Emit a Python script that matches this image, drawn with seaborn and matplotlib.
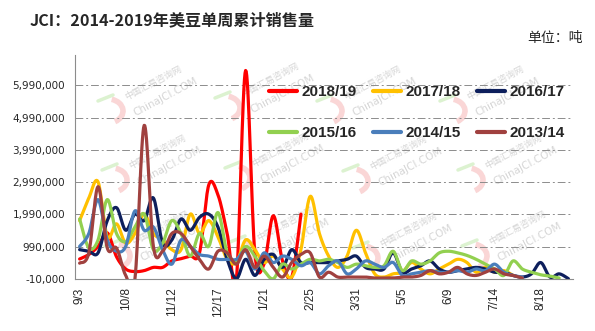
import numpy as np
import pandas as pd
import matplotlib
matplotlib.use("Agg")
import matplotlib.pyplot as plt
import seaborn as sns
from matplotlib.patches import Arc
from matplotlib.lines import Line2D

# ---- data: weekly net sales, million tonnes, marketing year starting 9/3 ----
week_labels = ["9/3", "10/8", "11/12", "12/17", "1/21", "2/25",
               "3/31", "5/5", "6/9", "7/14", "8/18"]
seasons = ["2018/19", "2017/18", "2016/17", "2015/16", "2014/15", "2013/14"]

sales_1819 = [0.61, 0.75, 1.0, 1.42, 0.68, 0.3, 0.22, 0.25, 0.35, 0.35, 0.55,
              0.62, 0.7, 0.8, 2.9, 2.6, 1.4, 0.0, 6.45, 0.8, 0.45, 1.95, 0.55,
              0.05, 2.0]
sales_1718 = [1.8, 2.5, 3.0, 1.3, 1.7, 1.1, 1.4, 2.0, 1.4, 1.2, 0.9, 0.9, 2.0,
              1.4, 1.8, 1.3, 0.6, 0.5, 1.2, 0.9, 0.5, 0.7, 0.3, 0.05, 0.9,
              2.55, 1.4, 0.7, 0.35, 0.7, 1.5, 0.8, 0.15, 0.05, 0.15, 0.2, 0.5,
              0.3, 0.15, 0.3, 0.45, 0.6, 0.5, 0.2, 0.35, 0.2, 0.25, 0.1]
sales_1617 = [0.9, 0.85, 0.8, 1.8, 2.2, 1.5, 2.0, 1.8, 2.5, 1.1, 1.2, 1.85,
              1.5, 1.9, 2.0, 1.6, 0.6, 0.0, 0.6, 0.1, 0.6, 0.75, 0.35, 0.9,
              0.5, 0.5, 0.5, 0.5, 0.55, 0.6, 0.7, 0.35, 0.3, 0.3, 0.8, 0.2,
              0.3, 0.4, 0.55, 0.3, 0.2, 0.25, 0.3, 0.35, 0.3, 0.2, 0.2, 0.1,
              0.05, 0.15, 0.5, 0.05, 0.15, 0.0]
sales_1516 = [1.85, 0.95, 1.2, 2.45, 1.4, 1.15, 1.6, 2.0, 0.9, 1.1, 1.8, 1.4,
              0.7, 1.4, 1.0, 2.05, 0.8, 0.55, 1.0, 0.7, 0.25, 0.0, 0.45, 0.3,
              0.45, 0.6, 0.55, 0.6, 0.5, 0.35, 0.45, 0.4, 0.35, 0.4, 0.85,
              0.25, 0.55, 0.45, 0.55, 0.8, 0.85, 0.8, 0.72, 0.6, 0.45, 0.3,
              0.1, 0.55, 0.3, 0.2, 0.12, 0.08, 0.02]
sales_1415 = [1.0, 1.4, 2.45, 1.2, 0.85, 1.0, 2.1, 1.5, 1.6, 0.9, 0.45, 1.2,
              1.0, 0.75, 0.7, 0.6, 0.6, 0.6, 0.85, 0.3, 0.8, 0.5, 0.7, 0.6,
              0.4, 0.5, 0.15, 0.4, 0.55, 0.15, 0.3, 0.55, 0.45, 0.35, 0.5,
              0.1, 0.15, 0.2, 0.25, 0.2, 0.2, 0.25, 0.2, 0.3, 0.25, 0.45, 0.2,
              0.1, 0.05]
sales_1314 = [0.48, 0.8, 2.85, 0.95, 0.95, 0.1, 0.0, 4.75, 1.0, 0.85, 1.4,
              1.4, 1.0, 0.6, 0.3, 0.85, 0.8, 0.45, 0.9, 0.35, 0.7, 0.35, 0.05,
              0.5, 0.75, 0.8, 0.05, 0.2, 0.05, 0.05, 0.05, 0.05, 0.02, 0.02,
              0.02, 0.05, 0.05, 0.1, 0.25, 0.15, 0.2, 0.35, 0.15, 0.1, 0.2,
              0.3, 0.15, 0.1, 0.02]

series = [sales_1819, sales_1718, sales_1617, sales_1516, sales_1415, sales_1314]
palette = ["#FF0000", "#FFC000", "#0D1F5C", "#92D050", "#4A7EBB", "#A0413F"]


def smooth_curve(values, steps=16):
    """Catmull-Rom curve through the weekly points (Excel-style smoothed line)."""
    y = np.asarray(values, float)
    x = np.arange(len(y), dtype=float)
    px = np.concatenate([[x[0]], x, [x[-1]]])
    py = np.concatenate([[y[0]], y, [y[-1]]])
    t = np.linspace(0, 1, steps, endpoint=False)
    xs, ys = [], []
    for i in range(1, len(px) - 2):
        for p, out in ((px, xs), (py, ys)):
            p0, p1, p2, p3 = p[i - 1], p[i], p[i + 1], p[i + 2]
            out.extend(0.5 * (2 * p1 + (-p0 + p2) * t
                              + (2 * p0 - 5 * p1 + 4 * p2 - p3) * t ** 2
                              + (-p0 + 3 * p1 - 3 * p2 + p3) * t ** 3))
    xs.append(x[-1])
    ys.append(y[-1])
    return np.array(xs), np.array(ys) * 1e6


frames = []
for name, vals in zip(seasons, series):
    sx, sy = smooth_curve(vals)
    frames.append(pd.DataFrame({"week": sx, "sales": sy, "season": name}))
df = pd.concat(frames, ignore_index=True)

sns.set_style("white")
plt.rcParams["font.family"] = ["DejaVu Sans", "Noto Sans CJK SC"]
cjk = ["Noto Sans CJK SC", "DejaVu Sans"]

W, H = 595, 331
fig = plt.figure(figsize=(W / 100, H / 100), dpi=100)
ax = fig.add_axes([75 / W, 1 - 279 / H, (573 - 75) / W, (279 - 55) / H])
ax.patch.set_alpha(0)


def fx(px):
    return px / W


def fy(py):
    return 1 - py / H


# faint site watermark tiles behind the lines
tiles = [(153, 83), (270, 80), (372, 83), (495, 83),
         (157, 152), (280, 150), (398, 153), (513, 152),
         (160, 228), (285, 224), (408, 230), (517, 228)]
for cx, cy in tiles:
    ax.text(fx(cx), fy(cy), "中国汇易咨询网", transform=fig.transFigure,
            rotation=28, fontsize=6.5, color="#d6d6d6", family=cjk,
            ha="center", va="center", zorder=0.2)
    ax.text(fx(cx + 12), fy(cy + 14), "ChinaJCI.COM", transform=fig.transFigure,
            rotation=28, fontsize=7.5, color="#d6d6d6", ha="center",
            va="center", zorder=0.2)
    ax.add_patch(Arc((fx(cx - 45), fy(cy + 28)), 30 / W, 24 / H, angle=0,
                     theta1=-70, theta2=80, transform=fig.transFigure,
                     color="#fad6d6", lw=4, zorder=0.2))
    ax.plot([fx(cx - 55), fx(cx - 40)], [fy(cy + 18), fy(cy + 12)],
            transform=fig.transFigure, color="#dcf2d0", lw=2.5, zorder=0.2)

handles = []
for name, col in zip(seasons, palette):
    sub = df[df["season"] == name]
    sns.lineplot(data=sub, x="week", y="sales", ax=ax, color=col, lw=2.3,
                 sort=False, estimator=None, legend=False, zorder=2)
    handles.append(Line2D([], [], color=col, lw=3))

ax.set_xlim(-0.5, 53.5)
ax.set_ylim(-10000, 6.93e6)

yt = np.arange(-10000, 6.0e6, 1e6)
ax.set_yticks(yt)
ax.set_yticklabels([f"{v:,.0f}" for v in yt], fontsize=7.5)
ax.yaxis.grid(True, linestyle=(0, (8, 3, 2, 3)), color="#8c8c8c", lw=0.7)
ax.xaxis.grid(False)

ax.set_xticks(np.arange(0, 51, 5))
ax.set_xticklabels(week_labels, rotation=90, fontsize=8.5,
                   family="Liberation Sans")
ax.set_xticks(np.arange(-0.5, 54, 1), minor=True)
ax.tick_params(axis="x", which="major", length=0, pad=6)
ax.tick_params(axis="x", which="minor", length=4, color="#8c8c8c", width=0.8)
ax.tick_params(axis="y", length=4, color="#8c8c8c", width=0.8, pad=3)
ax.set_xlabel("")
ax.set_ylabel("")

for s in ("top", "right"):
    ax.spines[s].set_visible(False)
for s in ("left", "bottom"):
    ax.spines[s].set_color("#8c8c8c")
    ax.spines[s].set_linewidth(0.8)

order = [0, 3, 1, 4, 2, 5]
ax.legend([handles[i] for i in order], [seasons[i] for i in order],
          loc="center", bbox_to_anchor=(fx(417), fy(112.5)),
          bbox_transform=fig.transFigure, ncol=3, frameon=False,
          prop={"family": "Liberation Sans", "weight": "bold", "size": 11},
          handlelength=1.8, handletextpad=0.3, columnspacing=1.1,
          labelspacing=1.75)

fig.text(fx(30), fy(20), "JCI：2014-2019年美豆单周累计销售量", family=cjk,
         fontsize=11.6, fontweight="bold", ha="left", va="center")
fig.text(fx(583), fy(38), "单位：吨", family=cjk, fontsize=10,
         ha="right", va="center")

fig.savefig("out.png", dpi=100)
